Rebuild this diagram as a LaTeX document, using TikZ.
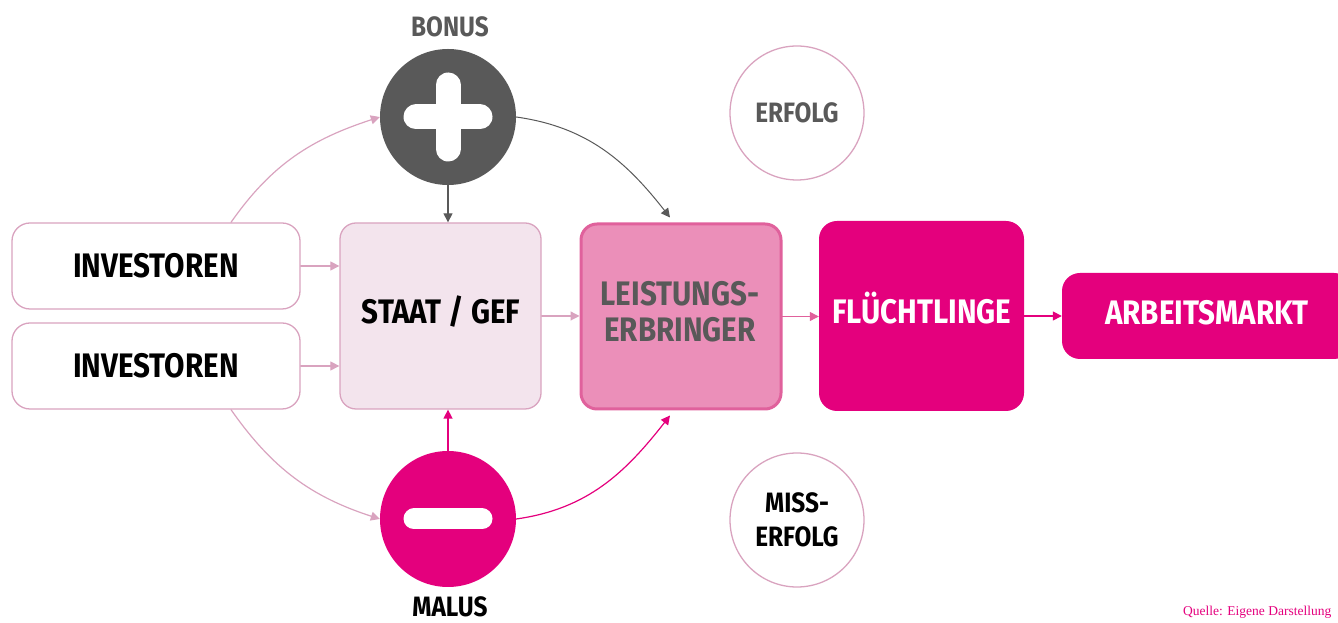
\documentclass[tikz,border=0pt]{standalone}
\usepackage{fontspec}
\setmainfont{Fira Sans}[FakeStretch=0.87]
\newfontfamily\quellefont{Liberation Serif}
\usetikzlibrary{calc,arrows.meta,positioning}
\definecolor{magenta}{HTML}{E4007D}
\definecolor{rosa}{HTML}{EB8FB9}
\definecolor{rosarand}{HTML}{E0619C}
\definecolor{hellrosa}{HTML}{F3E4ED}
\definecolor{linie}{HTML}{D9A3BF}
\definecolor{dunkel}{HTML}{595959}

\begin{document}
\begin{tikzpicture}[line cap=round,line join=round,>={Triangle[length=9pt,width=9pt]},x=1pt,y=1pt,
  kasten/.style={rounded corners=18pt,draw=linie,line width=1.3pt,minimum width=288pt,minimum height=86pt,font=\fontsize{34}{38}\selectfont\bfseries},
  block/.style={rounded corners=16pt,minimum width=201pt,minimum height=186pt},
  schrift/.style={font=\fontsize{34}{36}\selectfont\bfseries,align=center,inner sep=0pt},
  kreis/.style={circle,minimum size=136pt,inner sep=0pt},
  leer/.style={circle,draw=linie,line width=1.3pt,minimum size=134pt,inner sep=0pt,text=dunkel,font=\fontsize{28}{34}\selectfont\bfseries,align=center},
  titel/.style={font=\fontsize{28}{30}\selectfont\bfseries,inner sep=1pt}]
\useasboundingbox (0,0) rectangle (1338,623);
% Kaesten
\node[kasten] (inv1) at (156,357) {INVESTOREN};
\node[kasten] (inv2) at (156,257) {INVESTOREN};
\node[block,fill=hellrosa,draw=linie,line width=1.3pt] (staat) at (440.5,307) {};
\node[schrift] (staatlabel) at (441,311) {STAAT / GEF};
\node[block,fill=rosa,draw=rosarand,line width=3pt,minimum width=200pt,minimum height=185pt] (leist) at (681,306.5) {};
\node[schrift,text=dunkel] (leistlabel) at (680,311) {LEISTUNGS-\\ERBRINGER};
\node[block,fill=magenta,minimum width=205pt,minimum height=190pt,rounded corners=18pt] (fluecht) at (921.5,307) {};
\node[schrift,text=white,anchor=base] (fluechtlabel) at (922,299) {FL\"UCHTLINGE};
\node[rounded corners=18pt,fill=magenta,minimum width=290pt,minimum height=86pt] (markt) at (1207,307) {};
\node[schrift,text=white,anchor=base] (marktlabel) at (1207,298) {ARBEITSMARKT};
% Bonus / Malus
\node[kreis,fill=dunkel] (bonus) at (448,506) {};
\draw[white,line width=25pt] ([xshift=-32pt]bonus.center) -- ([xshift=32pt]bonus.center);
\draw[white,line width=25pt] ([yshift=-32pt]bonus.center) -- ([yshift=32pt]bonus.center);
\node[kreis,fill=magenta] (malus) at (448,104) {};
\draw[white,line width=21pt] ([xshift=-34pt]malus.center) -- ([xshift=34pt]malus.center);
\node[titel,text=dunkel] (bonuslabel) at (450,596) {BONUS};
\node[titel] (maluslabel) at (450,16) {MALUS};
% Erfolg
\node[leer] (erfolg) at (797,510) {ERFOLG};
\node[leer,text=black] (miss) at (797,103) {MISS-\\ERFOLG};
% Pfeile
\draw[->,linie,line width=1.2pt] (inv1.east) -- (inv1.east -| staat.west);
\draw[->,linie,line width=1.2pt] (inv2.east) -- (inv2.east -| staat.west);
\draw[->,linie,line width=1.2pt] (staat.east) -- (staat.east -| leist.west);
\draw[->,rosarand,line width=1.2pt] (leist.east) -- (leist.east -| fluecht.west);
\draw[->,magenta,line width=1.5pt] (fluecht.east) -- (fluecht.east -| markt.west);
\draw[->,dunkel,line width=1.2pt] (bonus.south) -- (bonus.south |- staat.north);
\draw[->,magenta,line width=1.5pt] (malus.north) -- (malus.north |- staat.south);
\draw[->,dunkel,line width=1pt] (bonus.east) to[out=-8,in=128] ([xshift=-11pt,yshift=5pt]leist.north);
\draw[->,magenta,line width=1.2pt] (malus.east) to[out=8,in=-128] ([xshift=-11pt,yshift=-5pt]leist.south);
\draw[->,linie,line width=1.2pt] ([xshift=75pt]inv1.north) to[out=55,in=198] (bonus.west);
\draw[->,linie,line width=1.2pt] ([xshift=75pt]inv2.south) to[out=-55,in=162] (malus.west);
% Quelle
\node[anchor=base west,inner sep=0pt,text=magenta,font=\quellefont\fontsize{13.5}{15}\selectfont] (quelle) at (1183,7) {Quelle: Eigene Darstellung};
\end{tikzpicture}
\end{document}
